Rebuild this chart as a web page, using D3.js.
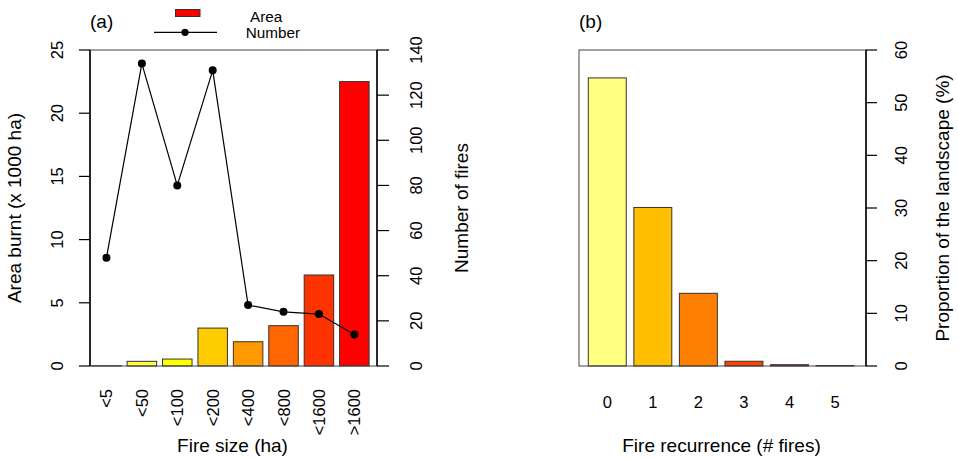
<!DOCTYPE html>
<html>
<head>
<meta charset="utf-8">
<script src="https://cdn.jsdelivr.net/npm/d3@7"></script>
<style>
  body { margin: 0; background: #fff; }
  text { font-family: "Liberation Sans", Arial, sans-serif; fill: #000; }
</style>
</head>
<body>
<div id="chart"></div>
<script>
// Panel (a): fire size classes
const sizeClasses = ["<5", "<50", "<100", "<200", "<400", "<800", "<1600", ">1600"];
const areaBurnt = [0.02, 0.37, 0.55, 3.0, 1.92, 3.19, 7.2, 22.5];   // x 1000 ha
const numberOfFires = [48, 134, 80, 131, 27, 24, 23, 14];
const areaTicks = [0, 5, 10, 15, 20, 25];
const fireTicks = [0, 20, 40, 60, 80, 100, 120, 140];

// Panel (b): fire recurrence
const recurrence = ["0", "1", "2", "3", "4", "5"];
const landscapePct = [54.7, 30.1, 13.8, 0.9, 0.25, 0.1];
const pctTicks = [0, 10, 20, 30, 40, 50, 60];

// colours (heat palette, reversed)
const sizeColors = ["#FFFFBF", "#FFFF40", "#FFFF00", "#FFCC00", "#FF9900", "#FF6600", "#FF3300", "#FF0000"];
const recColors = ["#FFFF80", "#FFBF00", "#FF8000", "#FF4000", "#FF0000", "#FFFF80"];

const W = 958, H = 458;
const tickFont = "16.5px", labFont = "19px";

const svg = d3.select("#chart").append("svg")
    .attr("width", W)
    .attr("height", H);

svg.append("rect").attr("width", W).attr("height", H).attr("fill", "#fff");

// ---------- panel (a) ----------
const a = { left: 90, right: 377, top: 50, bottom: 366 };

const xA = d3.scaleBand()
    .domain(sizeClasses)
    .range([91.7, 369.1])
    .paddingInner(0.167)
    .paddingOuter(0);

const yArea = d3.scaleLinear().domain([0, 25]).range([a.bottom, a.top]);
const yNum = d3.scaleLinear().domain([0, 140]).range([a.bottom, a.top]);

// bars
svg.append("g").selectAll("rect")
    .data(areaBurnt)
    .join("rect")
    .attr("x", (d, i) => xA(sizeClasses[i]))
    .attr("width", xA.bandwidth())
    .attr("y", d => yArea(d))
    .attr("height", d => a.bottom - yArea(d))
    .attr("fill", (d, i) => sizeColors[i])
    .attr("stroke", "#333")
    .attr("stroke-width", 1);

// box
svg.append("rect")
    .attr("x", a.left).attr("y", a.top)
    .attr("width", a.right - a.left).attr("height", a.bottom - a.top)
    .attr("fill", "none").attr("stroke", "#444").attr("stroke-width", 1);

// number of fires line
const line = d3.line()
    .x((d, i) => xA(sizeClasses[i]) + xA.bandwidth() / 2)
    .y(d => yNum(d));

svg.append("path")
    .datum(numberOfFires)
    .attr("fill", "none")
    .attr("stroke", "#000")
    .attr("stroke-width", 1.2)
    .attr("d", line);

svg.append("g").selectAll("circle")
    .data(numberOfFires)
    .join("circle")
    .attr("cx", (d, i) => xA(sizeClasses[i]) + xA.bandwidth() / 2)
    .attr("cy", d => yNum(d))
    .attr("r", 4)
    .attr("fill", "#000");

// left axis
const leftAx = svg.append("g");
leftAx.append("line")
    .attr("x1", a.left).attr("x2", a.left)
    .attr("y1", yArea(0)).attr("y2", yArea(25))
    .attr("stroke", "#000").attr("stroke-width", 1.5);
leftAx.selectAll("line.tick")
    .data(areaTicks)
    .join("line")
    .attr("class", "tick")
    .attr("x1", a.left - 11).attr("x2", a.left)
    .attr("y1", d => yArea(d)).attr("y2", d => yArea(d))
    .attr("stroke", "#000").attr("stroke-width", 1.2);
leftAx.selectAll("text")
    .data(areaTicks)
    .join("text")
    .attr("transform", d => `translate(63,${yArea(d)}) rotate(-90)`)
    .attr("text-anchor", "middle")
    .style("font-size", tickFont)
    .text(d => d);

// right axis (number of fires)
const rightAx = svg.append("g");
rightAx.append("line")
    .attr("x1", a.right).attr("x2", a.right)
    .attr("y1", yNum(0)).attr("y2", yNum(140))
    .attr("stroke", "#000").attr("stroke-width", 1.5);
rightAx.selectAll("line.tick")
    .data(fireTicks)
    .join("line")
    .attr("class", "tick")
    .attr("x1", a.right).attr("x2", a.right + 12)
    .attr("y1", d => yNum(d)).attr("y2", d => yNum(d))
    .attr("stroke", "#000").attr("stroke-width", 1.2);
rightAx.selectAll("text")
    .data(fireTicks)
    .join("text")
    .attr("transform", d => `translate(422,${yNum(d)}) rotate(-90)`)
    .attr("text-anchor", "middle")
    .style("font-size", tickFont)
    .text(d => d);

// x labels (rotated)
svg.append("g").selectAll("text")
    .data(sizeClasses)
    .join("text")
    .attr("transform", d => `translate(${xA(d) + xA.bandwidth() / 2 + 6},389) rotate(-90)`)
    .attr("text-anchor", "end")
    .style("font-size", tickFont)
    .text(d => d);

// titles
svg.append("text")
    .attr("transform", `translate(21,${(a.top + a.bottom) / 2}) rotate(-90)`)
    .attr("text-anchor", "middle")
    .style("font-size", labFont)
    .text("Area burnt (x 1000 ha)");

svg.append("text")
    .attr("transform", `translate(468,${(a.top + a.bottom) / 2}) rotate(-90)`)
    .attr("text-anchor", "middle")
    .style("font-size", labFont)
    .text("Number of fires");

svg.append("text")
    .attr("x", (a.left + a.right) / 2 - 1)
    .attr("y", 452)
    .attr("text-anchor", "middle")
    .style("font-size", labFont)
    .text("Fire size (ha)");

svg.append("text")
    .attr("x", 90).attr("y", 28)
    .style("font-size", labFont)
    .text("(a)");

// legend
const legend = svg.append("g");
legend.append("rect")
    .attr("x", 175.5).attr("y", 9.5)
    .attr("width", 24.5).attr("height", 7)
    .attr("fill", "#FF0000").attr("stroke", "#333");
legend.append("line")
    .attr("x1", 154).attr("x2", 217)
    .attr("y1", 32.3).attr("y2", 32.3)
    .attr("stroke", "#000").attr("stroke-width", 1.2);
legend.append("circle")
    .attr("cx", 185).attr("cy", 32.3).attr("r", 3.6)
    .attr("fill", "#000");
legend.append("text")
    .attr("x", 250).attr("y", 21.7)
    .style("font-size", "15.3px")
    .text("Area");
legend.append("text")
    .attr("x", 245.7).attr("y", 38.3)
    .style("font-size", "15.3px")
    .text("Number");

// ---------- panel (b) ----------
const b = { left: 579, right: 866, top: 50, bottom: 366 };

const xB = d3.scaleBand()
    .domain(recurrence)
    .range([588.3, 854])
    .paddingInner(0.167)
    .paddingOuter(0);

const yPct = d3.scaleLinear().domain([0, 60]).range([b.bottom, b.top]);

svg.append("g").selectAll("rect")
    .data(landscapePct)
    .join("rect")
    .attr("x", (d, i) => xB(recurrence[i]))
    .attr("width", xB.bandwidth())
    .attr("y", d => yPct(d))
    .attr("height", d => b.bottom - yPct(d))
    .attr("fill", (d, i) => recColors[i])
    .attr("stroke", "#333")
    .attr("stroke-width", 1);

svg.append("rect")
    .attr("x", b.left).attr("y", b.top)
    .attr("width", b.right - b.left).attr("height", b.bottom - b.top)
    .attr("fill", "none").attr("stroke", "#444").attr("stroke-width", 1);

const rightB = svg.append("g");
rightB.append("line")
    .attr("x1", b.right).attr("x2", b.right)
    .attr("y1", yPct(0)).attr("y2", yPct(60))
    .attr("stroke", "#000").attr("stroke-width", 1.5);
rightB.selectAll("line.tick")
    .data(pctTicks)
    .join("line")
    .attr("class", "tick")
    .attr("x1", b.right).attr("x2", b.right + 11)
    .attr("y1", d => yPct(d)).attr("y2", d => yPct(d))
    .attr("stroke", "#000").attr("stroke-width", 1.2);
rightB.selectAll("text")
    .data(pctTicks)
    .join("text")
    .attr("transform", d => `translate(907,${yPct(d)}) rotate(-90)`)
    .attr("text-anchor", "middle")
    .style("font-size", tickFont)
    .text(d => d);

svg.append("g").selectAll("text")
    .data(recurrence)
    .join("text")
    .attr("x", d => xB(d) + xB.bandwidth() / 2)
    .attr("y", 408)
    .attr("text-anchor", "middle")
    .style("font-size", tickFont)
    .text(d => d);

svg.append("text")
    .attr("x", 721.5).attr("y", 452)
    .attr("text-anchor", "middle")
    .style("font-size", labFont)
    .text("Fire recurrence (# fires)");

svg.append("text")
    .attr("transform", `translate(949,${(b.top + b.bottom) / 2}) rotate(-90)`)
    .attr("text-anchor", "middle")
    .style("font-size", labFont)
    .text("Proportion of the landscape (%)");

svg.append("text")
    .attr("x", 579).attr("y", 28)
    .style("font-size", labFont)
    .text("(b)");
</script>
</body>
</html>
